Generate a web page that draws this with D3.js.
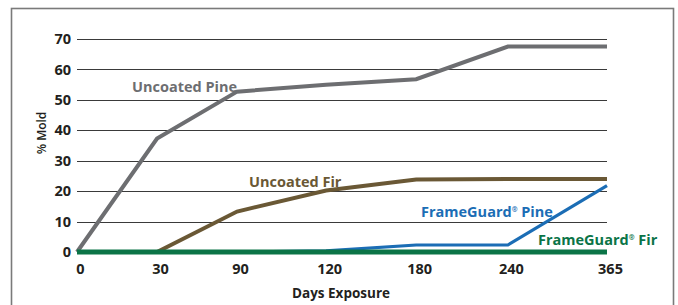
<!DOCTYPE html>
<html><head><meta charset="utf-8">
<script src="https://cdn.jsdelivr.net/npm/d3@7"></script>
<style>
html,body{margin:0;padding:0;background:#fff;}
svg{display:block;font-family:"Open Sans",sans-serif;}
</style></head>
<body><svg id="c" width="678" height="305"></svg>
<script>
const days = ["0","30","90","120","180","240","365"];
const yTicks = [0,10,20,30,40,50,60,70];
const uncoatedPine = [0,37.3,52.7,55,56.8,67.5,67.5];
const uncoatedFir = [0,0,13.3,20.2,23.8,24,24];
const frameGuardPine = [0,0,0,0.4,2.3,2.3,21.8];
const frameGuardFir = [0,0,0,0,0,0,0];
const seriesNames = ["Uncoated Pine","Uncoated Fir","FrameGuard® Pine","FrameGuard® Fir"];

const svg = d3.select("#c");
const L = 77, R = 607, T = 39, B = 252;
// irregular category spacing as in the original artwork
const spacing = [0,0.151,0.302,0.47,0.64,0.813,1];
const x = d3.scaleOrdinal().domain(days).range(spacing.map(f => L + f*(R-L)));
const y = d3.scaleLinear().domain([0,70]).range([B,T]);

// frame
svg.append("rect").attr("x",11.5).attr("y",8.5).attr("width",662).attr("height",310)
  .attr("fill","none").attr("stroke","#7a7a7a").attr("stroke-width",1.6);

// gridlines
svg.append("g").selectAll("line").data(yTicks.filter(d=>d>0)).join("line")
  .attr("x1",L).attr("x2",R).attr("y1",d=>Math.round(y(d))+0.5).attr("y2",d=>Math.round(y(d))+0.5)
  .attr("stroke","#3a3a3a").attr("stroke-width",1);

// y axis labels
const yAxis = d3.axisLeft(y).tickValues(yTicks).tickSize(0).tickPadding(0);
const gy = svg.append("g").attr("transform",`translate(${L-6},0)`).call(yAxis);
gy.select(".domain").remove();
gy.selectAll("text").attr("font-family","Open Sans").attr("font-weight",700).attr("font-size",14.5).attr("fill","#231f20");

// x axis labels
const xAxis = d3.axisBottom(x).tickSize(0).tickPadding(0);
const gx = svg.append("g").attr("transform",`translate(3,${B+12})`).call(xAxis);
gx.select(".domain").remove();
gx.selectAll("text").attr("font-family","Open Sans").attr("font-weight",700).attr("font-size",14.5).attr("fill","#231f20");

// titles
svg.append("text").attr("x",341).attr("y",298).attr("text-anchor","middle")
  .attr("font-weight",700).attr("font-size",13.5).attr("fill","#231f20").text("Days Exposure");
svg.append("text").attr("transform","translate(46,133) rotate(-90)").attr("text-anchor","middle")
  .attr("font-weight",600).attr("font-size",12).attr("fill","#231f20").text("% Mold");

const line = d3.line().x((d,i)=>x(days[i])).y(d=>y(d));
const series = [
  {v: uncoatedPine, c:"#6d6e71", w:4},
  {v: uncoatedFir, c:"#6a5835", w:4},
  {v: frameGuardPine, c:"#1b6db5", w:3.2},
  {v: frameGuardFir, c:"#0b7447", w:5}
];
svg.append("g").selectAll("path").data(series).join("path")
  .attr("d",d=>line(d.v)).attr("fill","none").attr("stroke",d=>d.c).attr("stroke-width",d=>d.w)
  .attr("stroke-linejoin","miter");

// series labels
const labels = [
  {t:seriesNames[0], x:132, y:92, c:"#6d6e71"},
  {t:seriesNames[1], x:249, y:187, c:"#6a5835"},
  {t:seriesNames[2], x:421, y:217, c:"#1b6db5"},
  {t:seriesNames[3], x:538, y:245, c:"#0b7447"}
];
labels.forEach(l=>{
  const parts = l.t.split("®");
  const t = svg.append("text").attr("x",l.x).attr("y",l.y).attr("font-weight",700)
    .attr("font-size",14.5).attr("fill",l.c);
  if(parts.length>1){
    t.append("tspan").text(parts[0]);
    t.append("tspan").attr("font-size",7).attr("dy",-5).text("®");
    t.append("tspan").attr("dy",5).text(parts[1]);
  } else t.text(l.t);
});
</script></body></html>
